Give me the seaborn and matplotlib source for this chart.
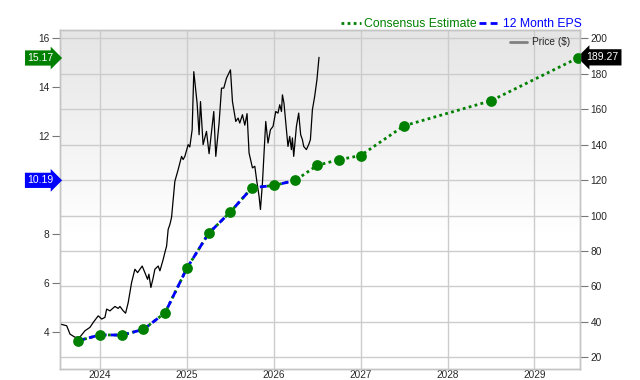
import numpy as np
import seaborn as sns
import matplotlib.pyplot as plt
from matplotlib.lines import Line2D
from matplotlib import transforms
from matplotlib.colors import LinearSegmentedColormap

sns.set_style("white")
plt.rcParams["font.family"] = ["Liberation Sans", "DejaVu Sans"]

# EPS: actual 12 month EPS then consensus estimates (left axis)
eps_years = [2023.75, 2024.0, 2024.25, 2024.5, 2024.75, 2025.0, 2025.25, 2025.5,
             2025.75, 2026.0, 2026.25, 2026.5, 2026.75, 2027.0, 2027.5, 2028.5, 2029.5]
eps_values = [3.66, 3.90, 3.89, 4.12, 4.80, 6.61, 8.03, 8.90,
              9.89, 9.98, 10.19, 10.80, 11.03, 11.20, 12.41, 13.43, 15.17]
n_actual = 11

# price (right axis)
price_years = [2023.540, 2023.617, 2023.655, 2023.713, 2023.770, 2023.828, 2023.885, 2023.923,
               2023.980, 2024.020, 2024.057, 2024.077, 2024.115, 2024.172, 2024.210, 2024.230,
               2024.268, 2024.295, 2024.325, 2024.364, 2024.402, 2024.433, 2024.486, 2024.517,
               2024.548, 2024.563, 2024.586, 2024.613, 2024.632, 2024.670, 2024.690, 2024.728,
               2024.747, 2024.767, 2024.785, 2024.805, 2024.824, 2024.862, 2024.900, 2024.939,
               2024.957, 2024.977, 2025.015, 2025.034, 2025.061, 2025.080, 2025.118, 2025.141,
               2025.157, 2025.187, 2025.226, 2025.256, 2025.295, 2025.310, 2025.333, 2025.371,
               2025.399, 2025.425, 2025.456, 2025.502, 2025.525, 2025.563, 2025.590, 2025.609,
               2025.640, 2025.667, 2025.693, 2025.716, 2025.755, 2025.782, 2025.808, 2025.831,
               2025.847, 2025.870, 2025.908, 2025.934, 2025.962, 2025.992, 2026.023, 2026.049,
               2026.069, 2026.089, 2026.100, 2026.118, 2026.146, 2026.164, 2026.184, 2026.203,
               2026.215, 2026.230, 2026.261, 2026.287, 2026.310, 2026.330, 2026.345, 2026.376,
               2026.402, 2026.422, 2026.445, 2026.471, 2026.497, 2026.521]
price_values = [38.8, 37.8, 33.1, 31.3, 31.5, 35.0, 36.9, 39.7,
                43.4, 41.6, 42.5, 47.2, 46.2, 48.7, 47.6, 48.7,
                46.2, 44.9, 50.9, 62.2, 69.7, 67.8, 71.5, 67.8,
                64.0, 66.9, 59.4, 65.0, 69.7, 71.5, 68.8, 75.3,
                79.1, 82.8, 92.2, 95.0, 99.0, 119.3, 125.9, 133.4,
                131.6, 133.4, 140.0, 138.7, 148.4, 181.2, 163.4, 145.6,
                164.3, 140.0, 147.5, 134.9, 152.2, 158.7, 133.4, 152.2,
                171.9, 171.9, 177.5, 182.2, 164.3, 153.1, 155.0, 152.2,
                156.9, 151.0, 157.5, 135.3, 126.9, 127.8, 118.4, 110.9,
                103.4, 118.4, 153.1, 140.9, 148.4, 150.3, 158.7, 157.8,
                162.5, 158.7, 168.1, 163.4, 148.4, 139.0, 144.7, 137.2,
                143.8, 133.4, 150.3, 157.8, 145.6, 142.8, 139.0, 137.2,
                140.0, 142.8, 159.7, 167.2, 176.5, 189.27]

year_ticks = [2024, 2025, 2026, 2027, 2028, 2029]
eps_ticks = [4, 6, 8, 12, 14, 16]
price_ticks = [20, 40, 60, 80, 100, 120, 140, 160, 180, 200]

grid_c = "#cccccc"
green = "#008000"
blue = "#0000ff"

fig = plt.figure(figsize=(6.4, 3.8), dpi=100)
ax = fig.add_axes([60 / 640, 11 / 380, 520 / 640, 339 / 380])
ax2 = ax.twinx()

# background gradient, gray at the top fading to white
grad = np.linspace(0, 1, 256).reshape(-1, 1)
grad = np.clip((grad - 0.4) / 0.6, 0, 1)
ax.imshow(grad, cmap=LinearSegmentedColormap.from_list("bg", ["#ffffff", "#e5e5e5"]),
          aspect="auto", extent=[0, 1, 0, 1], transform=ax.transAxes, zorder=0,
          origin="lower", vmin=0, vmax=1)

# price on the base axes (right side ticks)
sns.lineplot(x=price_years, y=price_values, ax=ax, color="black", lw=0.9, zorder=3)
ax.set_xlim(2023.54, 2029.525)
ax.set_ylim(13.4, 204.7)
ax.set_xticks(year_ticks)
ax.set_xticklabels([str(y) for y in year_ticks])
ax.set_yticks(price_ticks)
ax.yaxis.tick_right()
ax.grid(True, color=grid_c, lw=1)
ax.set_axisbelow(True)
for g in ax.get_xgridlines() + ax.get_ygridlines():
    g.set_zorder(1)

# EPS on twin axes (left side ticks)
sns.lineplot(x=eps_years, y=eps_values, ax=ax2, color=green, lw=2,
             linestyle=(0, (1, 1.2)), zorder=3)
sns.lineplot(x=eps_years[:n_actual], y=eps_values[:n_actual], ax=ax2, color=blue, lw=2,
             linestyle=(0, (2.5, 1.5)), zorder=4)
sns.scatterplot(x=eps_years, y=eps_values, ax=ax2, color=green, s=60,
                edgecolor=green, linewidth=0, zorder=5)
ax2.set_ylim(2.51, 16.31)
ax2.set_yticks(eps_ticks)
ax2.yaxis.tick_left()
ax2.grid(False)

for a in (ax, ax2):
    for s in a.spines.values():
        s.set_color("#c4c4c4")
        s.set_linewidth(1)
    a.set_xlabel("")
    a.set_ylabel("")
ax.tick_params(axis="x", length=0, pad=0.5, labelsize=7.2)
ax.tick_params(axis="y", length=6, width=0.8, color="#777777", pad=1.5, labelsize=7.3,
               right=True, left=False)
ax2.tick_params(axis="y", length=6, width=0.8, color="#777777", pad=1.5, labelsize=7.3,
                left=True, right=False)

# value tags
tl = transforms.blended_transform_factory(ax2.transAxes, ax2.transData)
tr = transforms.blended_transform_factory(ax.transAxes, ax.transData)
ax2.text(-0.012, eps_values[-1], f"{eps_values[-1]:.2f}", transform=tl, ha="right", va="center",
         color="white", fontsize=7.5,
         bbox=dict(boxstyle="rarrow,pad=0.25", fc=green, ec="none"), clip_on=False)
ax2.text(-0.012, eps_values[n_actual - 1], f"{eps_values[n_actual - 1]:.2f}", transform=tl,
         ha="right", va="center", color="white", fontsize=7.5,
         bbox=dict(boxstyle="rarrow,pad=0.25", fc=blue, ec="none"), clip_on=False)
ax.text(1.012, price_values[-1], f"{price_values[-1]:.2f}", transform=tr, ha="left", va="center",
        color="white", fontsize=7.5,
        bbox=dict(boxstyle="larrow,pad=0.3", fc="black", ec="none"), clip_on=False, zorder=10)

# legends
top_handles = [Line2D([], [], color=green, lw=2, linestyle=(0, (1, 1.2))),
               Line2D([], [], color=blue, lw=2, linestyle=(0, (2.5, 1.5)))]
leg = ax2.legend(top_handles, ["Consensus Estimate", "12 Month EPS"], loc="lower right",
                 bbox_to_anchor=(1.005, 0.995), ncol=2, frameon=False, fontsize=8.8,
                 handlelength=1.6, handletextpad=0.3, columnspacing=0.2,
                 borderaxespad=0, borderpad=0.1, labelcolor=[green, blue])
ax2.add_artist(leg)
ax2.legend([Line2D([], [], color="#808080", lw=2)], ["Price ($)"], loc="upper right",
           bbox_to_anchor=(0.985, 0.985), frameon=False, fontsize=7.3,
           handlelength=1.7, handletextpad=0.5, borderaxespad=0, borderpad=0.2)

fig.savefig("out.png", dpi=100)
